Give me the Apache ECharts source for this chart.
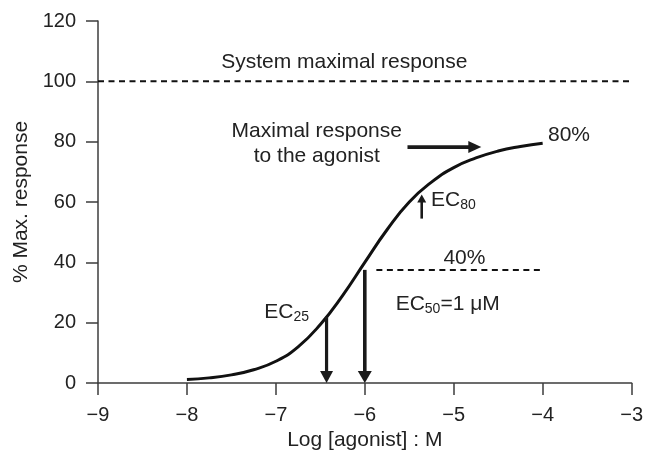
<!DOCTYPE html>
<html>
<head>
<meta charset="utf-8">
<script src="https://cdn.jsdelivr.net/npm/echarts@6/dist/echarts.min.js"></script>
<style>
  html, body { margin: 0; padding: 0; background: #fff; }
  #chart { width: 646px; height: 460px; }
</style>
</head>
<body>
<div id="chart"></div>
<script>
// Concentration–response curve (log molar concentration vs % of system maximum)
const logConc = [-8, -7.75, -7.5, -7.25, -7, -6.75, -6.5, -6.25, -6, -5.75, -5.5, -5.25, -5, -4.75, -4.5, -4.25, -4];
const response = [1.2, 1.7, 2.7, 4.4, 7.2, 12.0, 19.4, 29.0, 40.0, 50.8, 60.0, 66.6, 71.4, 74.6, 76.9, 78.4, 79.5];

// Reference levels drawn as dashed lines: [xStart, xEnd, level]
const systemMaxLine = [-9, -3, 100];
const ec50Line = [-5.87, -4, 37.5];

// Arrows: [xFrom, yFrom, xTo, yTo]
const arrowEC25 = [-6.43, 22, -6.43, 0];
const arrowEC50 = [-6, 37.5, -6, 0];
const arrowEC80 = [-5.36, 54.5, -5.36, 62.5];
const arrowMax = [-5.52, 78.2, -4.69, 78.2];

// Annotation text and its anchor (data units)
const noteText = [
  'System maximal response',
  'Maximal response\nto the agonist',
  '80%',
  '40%',
  '{m|EC}{s|80}',
  '{m|EC}{s|25}',
  '{m|EC}{s|50}{m|=1 μM}'
];
const noteX = [-6.23, -6.54, -3.94, -4.88, -5.255, -7.13, -5.653];
const noteY = [106.4, 79.4, 82.2, 41.4, 60.7, 23.5, 26.2];

const xTicks = { min: -9, max: -3, step: 1 };
const yTicks = { min: 0, max: 120, step: 20 };

const FONT = '"Liberation Sans", Arial, Helvetica, sans-serif';
const INK = '#222';
const AXIS = '#3c3c3c';
const TEXT_SIZE = 21;

const noteAlign = ['center', 'center', 'left', 'center', 'left', 'left', 'left'];
const arrowList = [arrowEC25, arrowEC50, arrowEC80, arrowMax];
const arrowHead = [
  { len: 12, half: 6.5, w: 3.2 },
  { len: 12, half: 7, w: 3.6 },
  { len: 8, half: 4.5, w: 2.6 },
  { len: 13, half: 6, w: 3.6 }
];

const chart = echarts.init(document.getElementById('chart'), null, { renderer: 'canvas' });

const minus = v => String(v).replace('-', '\u2212');

chart.setOption({
  animation: false,
  backgroundColor: '#fff',
  grid: { left: 98, right: 12, top: 21, bottom: 77, containLabel: false },
  xAxis: {
    type: 'value',
    min: xTicks.min, max: xTicks.max, interval: xTicks.step,
    name: 'Log [agonist] : M',
    nameLocation: 'middle',
    nameGap: 45,
    nameTextStyle: { fontFamily: FONT, fontSize: TEXT_SIZE, color: INK },
    axisLine: { onZero: false, lineStyle: { color: AXIS, width: 1.5 } },
    axisTick: { show: true, length: 12, lineStyle: { color: AXIS, width: 1.5 } },
    axisLabel: { formatter: minus, fontFamily: FONT, fontSize: 20, color: INK, margin: 22 },
    splitLine: { show: false }
  },
  yAxis: {
    type: 'value',
    min: yTicks.min, max: yTicks.max, interval: yTicks.step,
    name: '% Max. response',
    nameLocation: 'middle',
    nameGap: 59,
    nameTextStyle: { fontFamily: FONT, fontSize: TEXT_SIZE, color: INK },
    axisLine: { show: true, onZero: false, lineStyle: { color: AXIS, width: 1.5 } },
    axisTick: { show: true, length: 12, lineStyle: { color: AXIS, width: 1.5 } },
    axisLabel: { fontFamily: FONT, fontSize: 20, color: INK, margin: 22 },
    splitLine: { show: false }
  },
  series: [
    {
      name: 'response',
      type: 'line',
      data: logConc.map((x, i) => [x, response[i]]),
      smooth: 0.5,
      showSymbol: false,
      lineStyle: { color: '#111', width: 3 },
      z: 3
    },
    {
      name: 'system max',
      type: 'line',
      data: [[systemMaxLine[0], systemMaxLine[2]], [systemMaxLine[1], systemMaxLine[2]]],
      showSymbol: false,
      lineStyle: { color: '#111', width: 2, type: [6, 4.5] }
    },
    {
      name: 'ec50 level',
      type: 'line',
      data: [[ec50Line[0], ec50Line[2]], [ec50Line[1], ec50Line[2]]],
      showSymbol: false,
      lineStyle: { color: '#111', width: 2, type: [6, 4.5] }
    },
    {
      name: 'arrows',
      type: 'custom',
      coordinateSystem: 'cartesian2d',
      data: arrowList,
      encode: { x: [0, 2], y: [1, 3] },
      clip: false,
      z: 4,
      renderItem: function (params, api) {
        const p1 = api.coord([api.value(0), api.value(1)]);
        const p2 = api.coord([api.value(2), api.value(3)]);
        const h = arrowHead[params.dataIndex];
        const dx = p2[0] - p1[0], dy = p2[1] - p1[1];
        const len = Math.hypot(dx, dy);
        const ux = dx / len, uy = dy / len;
        const bx = p2[0] - ux * h.len, by = p2[1] - uy * h.len;
        const nx = -uy, ny = ux;
        return {
          type: 'group',
          children: [
            {
              type: 'line',
              shape: { x1: p1[0], y1: p1[1], x2: bx + ux, y2: by + uy },
              style: { stroke: '#1a1a1a', lineWidth: h.w }
            },
            {
              type: 'polygon',
              shape: { points: [[p2[0], p2[1]], [bx + nx * h.half, by + ny * h.half], [bx - nx * h.half, by - ny * h.half]] },
              style: { fill: '#1a1a1a' }
            }
          ]
        };
      }
    },
    {
      name: 'notes',
      type: 'custom',
      coordinateSystem: 'cartesian2d',
      data: noteX.map((x, i) => [x, noteY[i]]),
      clip: false,
      z: 5,
      renderItem: function (params, api) {
        const p = api.coord([api.value(0), api.value(1)]);
        const i = params.dataIndex;
        return {
          type: 'text',
          x: p[0],
          y: p[1],
          style: {
            text: noteText[i],
            fill: INK,
            fontFamily: FONT,
            fontSize: TEXT_SIZE,
            lineHeight: 25,
            align: noteAlign[i],
            verticalAlign: 'middle',
            rich: {
              m: { fontFamily: FONT, fontSize: TEXT_SIZE, lineHeight: 24, fill: INK, color: INK, verticalAlign: 'middle' },
              s: { fontFamily: FONT, fontSize: 14, lineHeight: 10, fill: INK, color: INK, verticalAlign: 'bottom' }
            }
          }
        };
      }
    }
  ]
});
</script>
</body>
</html>
